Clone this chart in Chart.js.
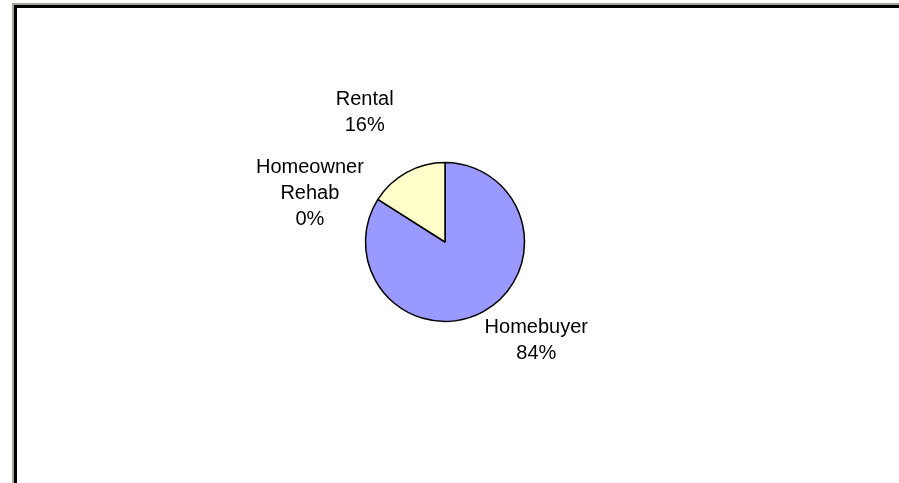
<!DOCTYPE html>
<html>
<head>
<meta charset="utf-8">
<script src="https://cdn.jsdelivr.net/npm/chart.js@4"></script>
<style>
  html, body { margin: 0; padding: 0; background: #fff; }
  #wrap { position: relative; width: 899px; height: 483px; overflow: hidden; background: #fff; }
  #grayTop { position: absolute; left: 12px; top: 3px; width: 887px; height: 2px; background: #a6a39a; }
  #grayLeft { position: absolute; left: 12px; top: 3px; width: 2px; height: 480px; background: #a6a39a; }
  #blackTop { position: absolute; left: 14px; top: 5px; width: 885px; height: 3px; background: #000; }
  #blackLeft { position: absolute; left: 14px; top: 5px; width: 3px; height: 478px; background: #000; }
  canvas { position: absolute; left: 0; top: 0; }
</style>
</head>
<body>
<div id="wrap">
  <div id="grayTop"></div>
  <div id="grayLeft"></div>
  <div id="blackTop"></div>
  <div id="blackLeft"></div>
  <canvas id="c" width="899" height="483"></canvas>
</div>
<script>
const categories = ["Homebuyer", "Homeowner Rehab", "Rental"];
const values = [84, 0, 16];
const sliceColors = ["#9999FF", "#FFFFCC", "#FFFFCC"];

// label placement: offset of each label block centre from the rim point at the slice's mid angle
const labelOffsets = [[53, 29], [-68, -6], [-42, -60]];

const outsideLabels = {
  id: 'outsideLabels',
  afterDatasetsDraw(chart) {
    const ctx = chart.ctx;
    const meta = chart.getDatasetMeta(0);
    const data = chart.data.datasets[0].data;
    const total = data.reduce((a, b) => a + b, 0);
    ctx.save();
    ctx.font = '20px "Liberation Sans", Arial, sans-serif';
    ctx.fillStyle = '#000';
    ctx.textAlign = 'center';
    ctx.textBaseline = 'middle';
    const lh = 26;
    meta.data.forEach((arc, i) => {
      const p = arc.getProps(['x', 'y', 'startAngle', 'endAngle', 'outerRadius'], true);
      const mid = (p.startAngle + p.endAngle) / 2;
      const rx = p.x + Math.cos(mid) * p.outerRadius;
      const ry = p.y + Math.sin(mid) * p.outerRadius;
      const cx = rx + labelOffsets[i][0];
      const cy = ry + labelOffsets[i][1];
      const lines = chart.data.labels[i].split(' ');
      lines.push(Math.round(data[i] / total * 100) + '%');
      const n = lines.length;
      lines.forEach((t, k) => {
        ctx.fillText(t, cx, cy + (k - (n - 1) / 2) * lh);
      });
    });
    ctx.restore();
  }
};

new Chart(document.getElementById('c'), {
  type: 'pie',
  data: {
    labels: categories,
    datasets: [{
      data: values,
      backgroundColor: sliceColors,
      borderColor: '#000000',
      borderWidth: 1.5,
      hoverOffset: 0
    }]
  },
  options: {
    responsive: false,
    animation: false,
    radius: 79.5,
    layout: { padding: { left: 0, right: 9, top: 1, bottom: 0 } },
    plugins: {
      legend: { display: false },
      tooltip: { enabled: false }
    }
  },
  plugins: [outsideLabels]
});
</script>
</body>
</html>
